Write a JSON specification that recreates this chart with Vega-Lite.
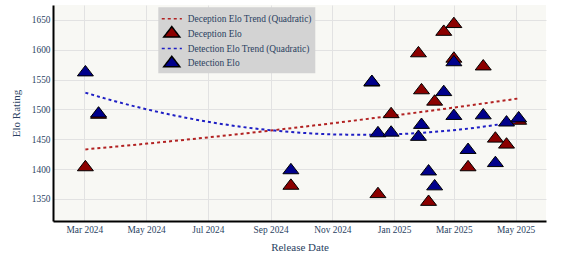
{
  "$schema": "https://vega.github.io/schema/vega-lite/v6.json",
  "width": 493,
  "height": 216,
  "autosize": {"type": "none"},
  "padding": {"left": 53, "top": 5, "right": 25, "bottom": 36},
  "background": "white",
  "config": {
    "view": {"fill": "#f8f8f4", "stroke": null},
    "font": "Liberation Serif",
    "axis": {
      "labelFont": "Liberation Serif",
      "titleFont": "Liberation Serif",
      "labelColor": "#2a3f5f",
      "titleColor": "#2a3f5f",
      "labelFontSize": 9.4,
      "titleFontSize": 11,
      "titleFontWeight": "normal",
      "gridColor": "#e2e2e2",
      "gridWidth": 1,
      "domainColor": "black",
      "domainWidth": 2,
      "ticks": false
    },
    "legend": {
      "orient": "none",
      "legendX": 105.3,
      "legendY": 2.3,
      "fillColor": "#d3d3d3",
      "padding": 3.5,
      "cornerRadius": 0,
      "labelFont": "Liberation Serif",
      "labelFontSize": 9.4,
      "labelColor": "#2a3f5f",
      "symbolSize": 192,
      "symbolStrokeWidth": 1.5,
      "symbolOffset": 2,
      "labelOffset": 8,
      "rowPadding": -0.3
    }
  },
  "datasets": {
    "decTrend": [
      {"date": "2024-03-02", "series": "Deception Elo Trend (Quadratic)", "elo": 1433.0},
      {"date": "2024-04-01", "series": "Deception Elo Trend (Quadratic)", "elo": 1437.7},
      {"date": "2024-05-02", "series": "Deception Elo Trend (Quadratic)", "elo": 1442.7},
      {"date": "2024-06-02", "series": "Deception Elo Trend (Quadratic)", "elo": 1448.0},
      {"date": "2024-07-04", "series": "Deception Elo Trend (Quadratic)", "elo": 1453.6},
      {"date": "2024-08-04", "series": "Deception Elo Trend (Quadratic)", "elo": 1459.3},
      {"date": "2024-09-05", "series": "Deception Elo Trend (Quadratic)", "elo": 1465.4},
      {"date": "2024-10-06", "series": "Deception Elo Trend (Quadratic)", "elo": 1471.5},
      {"date": "2024-11-06", "series": "Deception Elo Trend (Quadratic)", "elo": 1477.8},
      {"date": "2024-12-07", "series": "Deception Elo Trend (Quadratic)", "elo": 1484.4},
      {"date": "2025-01-07", "series": "Deception Elo Trend (Quadratic)", "elo": 1491.1},
      {"date": "2025-02-05", "series": "Deception Elo Trend (Quadratic)", "elo": 1497.6},
      {"date": "2025-03-07", "series": "Deception Elo Trend (Quadratic)", "elo": 1504.5},
      {"date": "2025-04-06", "series": "Deception Elo Trend (Quadratic)", "elo": 1511.6},
      {"date": "2025-05-04", "series": "Deception Elo Trend (Quadratic)", "elo": 1518.4}
    ],
    "detTrend": [
      {"date": "2024-03-02", "series": "Detection Elo Trend (Quadratic)", "elo": 1528.0},
      {"date": "2024-04-01", "series": "Detection Elo Trend (Quadratic)", "elo": 1513.4},
      {"date": "2024-05-02", "series": "Detection Elo Trend (Quadratic)", "elo": 1500.0},
      {"date": "2024-06-02", "series": "Detection Elo Trend (Quadratic)", "elo": 1488.5},
      {"date": "2024-07-04", "series": "Detection Elo Trend (Quadratic)", "elo": 1478.5},
      {"date": "2024-08-04", "series": "Detection Elo Trend (Quadratic)", "elo": 1470.6},
      {"date": "2024-09-05", "series": "Detection Elo Trend (Quadratic)", "elo": 1464.5},
      {"date": "2024-10-06", "series": "Detection Elo Trend (Quadratic)", "elo": 1460.3},
      {"date": "2024-11-06", "series": "Detection Elo Trend (Quadratic)", "elo": 1458.0},
      {"date": "2024-12-07", "series": "Detection Elo Trend (Quadratic)", "elo": 1457.5},
      {"date": "2025-01-07", "series": "Detection Elo Trend (Quadratic)", "elo": 1458.8},
      {"date": "2025-02-05", "series": "Detection Elo Trend (Quadratic)", "elo": 1461.7},
      {"date": "2025-03-07", "series": "Detection Elo Trend (Quadratic)", "elo": 1466.3},
      {"date": "2025-04-06", "series": "Detection Elo Trend (Quadratic)", "elo": 1472.7},
      {"date": "2025-05-04", "series": "Detection Elo Trend (Quadratic)", "elo": 1480.1}
    ],
    "decPts": [
      {"date": "2024-03-02", "series": "Deception Elo", "elo": 1403},
      {"date": "2024-03-15", "series": "Deception Elo", "elo": 1491},
      {"date": "2024-09-21", "series": "Deception Elo", "elo": 1372},
      {"date": "2024-12-10", "series": "Deception Elo", "elo": 1545},
      {"date": "2024-12-16", "series": "Deception Elo", "elo": 1358},
      {"date": "2024-12-29", "series": "Deception Elo", "elo": 1492},
      {"date": "2025-01-25", "series": "Deception Elo", "elo": 1594},
      {"date": "2025-01-28", "series": "Deception Elo", "elo": 1532},
      {"date": "2025-02-04", "series": "Deception Elo", "elo": 1345},
      {"date": "2025-02-10", "series": "Deception Elo", "elo": 1513},
      {"date": "2025-02-19", "series": "Deception Elo", "elo": 1630},
      {"date": "2025-03-01", "series": "Deception Elo", "elo": 1643},
      {"date": "2025-03-01", "series": "Deception Elo", "elo": 1585},
      {"date": "2025-03-15", "series": "Deception Elo", "elo": 1403},
      {"date": "2025-03-30", "series": "Deception Elo", "elo": 1572},
      {"date": "2025-04-11", "series": "Deception Elo", "elo": 1451},
      {"date": "2025-04-22", "series": "Deception Elo", "elo": 1441},
      {"date": "2025-05-04", "series": "Deception Elo", "elo": 1481}
    ],
    "detPts": [
      {"date": "2024-03-02", "series": "Detection Elo", "elo": 1562},
      {"date": "2024-03-15", "series": "Detection Elo", "elo": 1493},
      {"date": "2024-09-21", "series": "Detection Elo", "elo": 1398},
      {"date": "2024-12-10", "series": "Detection Elo", "elo": 1546},
      {"date": "2024-12-16", "series": "Detection Elo", "elo": 1460},
      {"date": "2024-12-29", "series": "Detection Elo", "elo": 1461},
      {"date": "2025-01-25", "series": "Detection Elo", "elo": 1454},
      {"date": "2025-01-28", "series": "Detection Elo", "elo": 1474},
      {"date": "2025-02-04", "series": "Detection Elo", "elo": 1396},
      {"date": "2025-02-10", "series": "Detection Elo", "elo": 1371},
      {"date": "2025-02-19", "series": "Detection Elo", "elo": 1529},
      {"date": "2025-03-01", "series": "Detection Elo", "elo": 1489},
      {"date": "2025-03-01", "series": "Detection Elo", "elo": 1579},
      {"date": "2025-03-15", "series": "Detection Elo", "elo": 1432},
      {"date": "2025-03-30", "series": "Detection Elo", "elo": 1490},
      {"date": "2025-04-11", "series": "Detection Elo", "elo": 1410},
      {"date": "2025-04-22", "series": "Detection Elo", "elo": 1478},
      {"date": "2025-05-04", "series": "Detection Elo", "elo": 1485}
    ]
  },
  "encoding": {
    "x": {
      "field": "date",
      "type": "temporal",
      "scale": {
        "type": "utc",
        "domain": [
          {"year": 2024, "month": "jan", "date": 30, "utc": true},
          {"year": 2025, "month": "may", "date": 31, "utc": true}
        ]
      },
      "axis": {
        "title": "Release Date",
        "format": "%b %Y",
        "tickCount": {"interval": "month", "step": 2},
        "labelFont": "Liberation Serif",
        "titleFont": "Liberation Serif",
        "titleFontWeight": "normal",
        "labelPadding": 4,
        "titlePadding": 8,
        "grid": true
      }
    },
    "y": {
      "field": "elo",
      "type": "quantitative",
      "scale": {"domain": [1313, 1675], "nice": false, "zero": false},
      "axis": {
        "title": "Elo Rating",
        "format": "d",
        "values": [1350, 1400, 1450, 1500, 1550, 1600, 1650],
        "labelFont": "Liberation Serif",
        "titleFont": "Liberation Serif",
        "titleFontWeight": "normal",
        "labelPadding": 3,
        "titlePadding": 10,
        "grid": true
      }
    },
    "stroke": {
      "field": "series",
      "type": "nominal",
      "scale": {
        "domain": ["Deception Elo Trend (Quadratic)", "Deception Elo", "Detection Elo Trend (Quadratic)", "Detection Elo"],
        "range": ["#b22222", "black", "#1f1fc4", "black"]
      },
      "legend": {"title": null}
    }
  },
  "layer": [
    {
      "data": {"name": "decTrend"},
      "mark": {"type": "line", "strokeWidth": 2, "interpolate": "monotone"},
      "encoding": {
        "strokeDash": {
          "field": "series",
          "type": "nominal",
          "scale": {
            "domain": ["Deception Elo Trend (Quadratic)", "Deception Elo", "Detection Elo Trend (Quadratic)", "Detection Elo"],
            "range": [[3, 3], [1, 0], [3, 3], [1, 0]]
          },
          "legend": {"title": null}
        }
      }
    },
    {
      "data": {"name": "decPts"},
      "mark": {"type": "point", "size": 192, "filled": true, "opacity": 1, "strokeWidth": 1},
      "encoding": {
        "color": {
          "field": "series",
          "type": "nominal",
          "scale": {
            "domain": ["Deception Elo Trend (Quadratic)", "Deception Elo", "Detection Elo Trend (Quadratic)", "Detection Elo"],
            "range": ["#b22222", "#8b0000", "#1f1fc4", "#00008b"]
          },
          "legend": {"title": null}
        },
        "shape": {
          "field": "series",
          "type": "nominal",
          "scale": {
            "domain": ["Deception Elo Trend (Quadratic)", "Deception Elo", "Detection Elo Trend (Quadratic)", "Detection Elo"],
            "range": ["M-1.45,0H1.45", "M-1.155,0.5H1.155L0,-1Z", "M-1.45,0H1.45", "M-1.155,0.5H1.155L0,-1Z"]
          },
          "legend": {"title": null}
        }
      }
    },
    {
      "data": {"name": "detTrend"},
      "mark": {"type": "line", "strokeWidth": 2, "interpolate": "monotone"},
      "encoding": {
        "strokeDash": {
          "field": "series",
          "type": "nominal",
          "scale": {
            "domain": ["Deception Elo Trend (Quadratic)", "Deception Elo", "Detection Elo Trend (Quadratic)", "Detection Elo"],
            "range": [[3, 3], [1, 0], [3, 3], [1, 0]]
          },
          "legend": {"title": null}
        }
      }
    },
    {
      "data": {"name": "detPts"},
      "mark": {"type": "point", "size": 192, "filled": true, "opacity": 1, "strokeWidth": 1},
      "encoding": {
        "color": {
          "field": "series",
          "type": "nominal",
          "scale": {
            "domain": ["Deception Elo Trend (Quadratic)", "Deception Elo", "Detection Elo Trend (Quadratic)", "Detection Elo"],
            "range": ["#b22222", "#8b0000", "#1f1fc4", "#00008b"]
          },
          "legend": {"title": null}
        },
        "shape": {
          "field": "series",
          "type": "nominal",
          "scale": {
            "domain": ["Deception Elo Trend (Quadratic)", "Deception Elo", "Detection Elo Trend (Quadratic)", "Detection Elo"],
            "range": ["M-1.45,0H1.45", "M-1.155,0.5H1.155L0,-1Z", "M-1.45,0H1.45", "M-1.155,0.5H1.155L0,-1Z"]
          },
          "legend": {"title": null}
        }
      }
    }
  ]
}
